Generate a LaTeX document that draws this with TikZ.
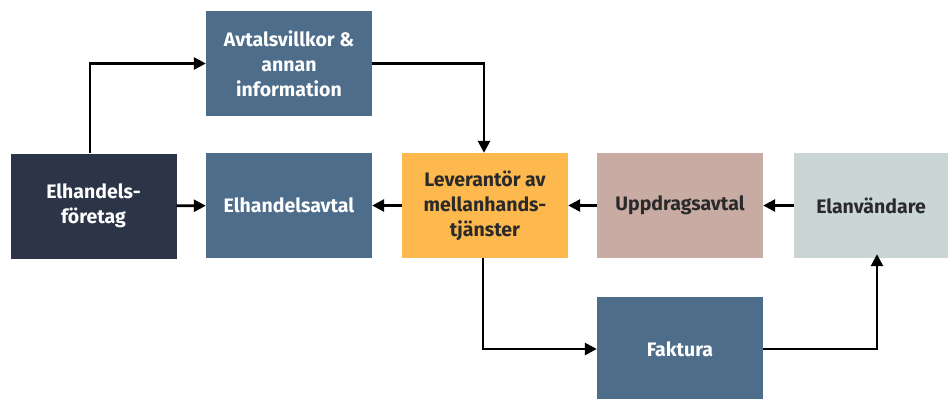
\documentclass[tikz,border=0pt]{standalone}
\usepackage{fontspec}
\setmainfont{Fira Sans}
\usetikzlibrary{arrows.meta}
\definecolor{navy}{HTML}{2B3547}
\definecolor{steel}{HTML}{4D6D8B}
\definecolor{orangebox}{HTML}{FDB94E}
\definecolor{rosebox}{HTML}{C8ACA3}
\definecolor{greybox}{HTML}{CAD6D5}
\definecolor{txtdark}{HTML}{2A2A2A}
\begin{document}
\begin{tikzpicture}[x=1pt,y=-1pt,>={Triangle[length=12pt,width=12pt]},
	box/.style={minimum width=166pt,minimum height=105pt,inner sep=0pt,align=center,
		font=\bfseries\fontsize{19.5}{25}\selectfont},
	lightbox/.style={box,text=white},
	darkbox/.style={box,text=txtdark},
	link/.style={->,line width=2.6pt}]
	\useasboundingbox (0,0) rectangle (948,399);
	% boxes
	\node[lightbox,fill=navy] (foretag) at (93.5,206) {Elhandels-\\företag};
	\node[lightbox,fill=steel] (villkor) at (289,63.5) {Avtalsvillkor \&\\annan\\information};
	\node[lightbox,fill=steel] (avtal) at (289,205.5) {Elhandelsavtal};
	\node[darkbox,fill=orangebox] (lev) at (485,205.5) {Leverantör av\\mellanhands-\\tjänster};
	\node[darkbox,fill=rosebox] (uppdrag) at (680,205.5) {Uppdragsavtal};
	\node[darkbox,fill=greybox,minimum width=154pt] (anv) at (871,205.5) {Elanvändare};
	\node[lightbox,fill=steel] (faktura) at (680,349) {Faktura};
	% connectors
	\draw[link] (foretag.north -| 90,0) |- (villkor.west);
	\draw[link] (villkor.east) -| (lev.north -| 484,0);
	\draw[link] (foretag) -- (avtal);
	\draw[link] (lev) -- (avtal);
	\draw[link] (uppdrag) -- (lev);
	\draw[link] (anv) -- (uppdrag);
	\draw[link] (lev.south -| 483,0) |- (faktura.west);
	\draw[link] (faktura.east) -| ([yshift=4pt]anv.south -| 877,0);
\end{tikzpicture}
\end{document}
